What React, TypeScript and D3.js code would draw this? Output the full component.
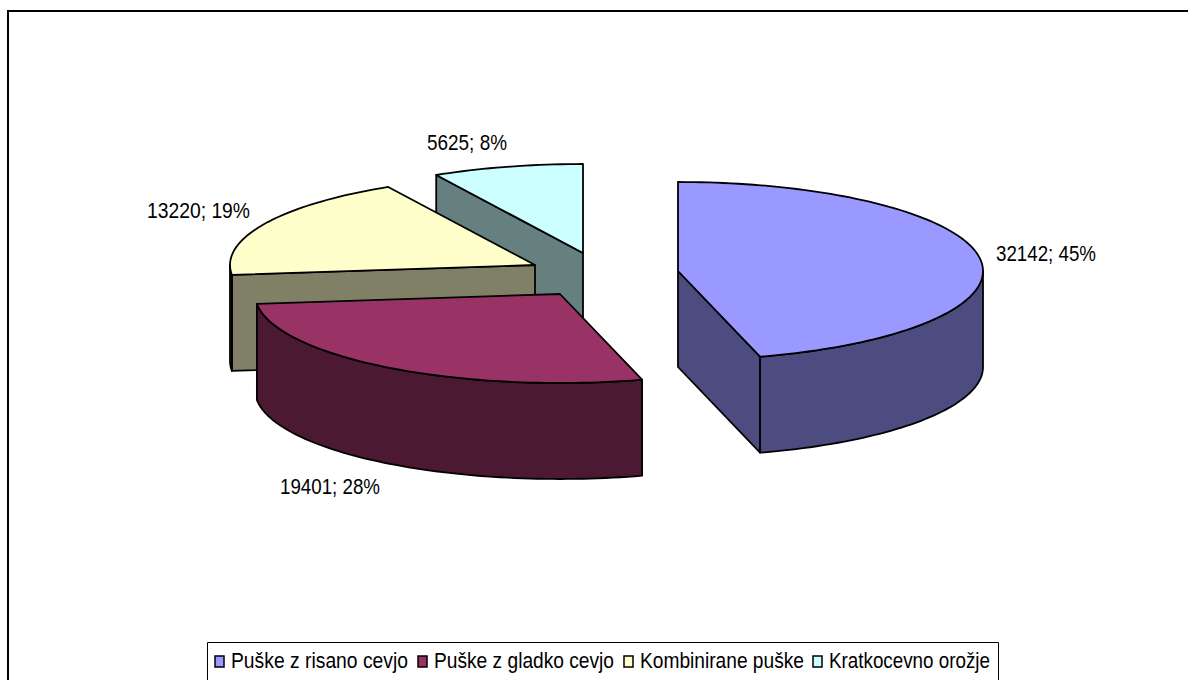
import React from "react";
import * as d3 from "d3";

const categories = ["Puške z risano cevjo", "Puške z gladko cevjo", "Kombinirane puške", "Kratkocevno orožje"];
const values = [32142, 19401, 13220, 5625];
const percents = [45, 28, 19, 8];
const topColors = ["#9999FF", "#993366", "#FFFFCC", "#CCFFFF"];
const sideColors = ["#4C4C80", "#4C1933", "#808066", "#668080"];
const apexX = [678, 560, 535, 583];
const apexY = [271, 294, 265, 253];
const labelX = [996, 280, 147, 427];
const labelY = [261, 494, 218, 150];
const labelW = [100, 100, 103, 80];
const legendX = [231, 434, 640, 829];
const legendW = [177, 180, 164, 161];
const legendSwatchX = [215, 418, 624, 813];

const RX = 305;
const RY = 89;
const DEPTH = 96;

const arcs = d3.pie<number>().sort(null)(values);

function pt(i: number, a: number, dy = 0): [number, number] {
  return [apexX[i] + RX * Math.sin(a), apexY[i] - RY * Math.cos(a) + dy];
}
function samples(a0: number, a1: number) {
  const n = Math.max(2, Math.ceil(Math.abs(a1 - a0) * 40));
  return d3.range(n + 1).map((k) => a0 + ((a1 - a0) * k) / n);
}
const line = d3.line();

function Slice({ i }: { i: number }) {
  const { startAngle: a0, endAngle: a1 } = arcs[i];
  const ax = apexX[i];
  const ay = apexY[i];
  const top = [[ax, ay] as [number, number], ...samples(a0, a1).map((a) => pt(i, a))];
  const fa0 = Math.max(a0, Math.PI / 2);
  const fa1 = Math.min(a1, (3 * Math.PI) / 2);
  const rim =
    fa1 > fa0
      ? [...samples(fa0, fa1).map((a) => pt(i, a)), ...samples(fa1, fa0).map((a) => pt(i, a, DEPTH))]
      : null;
  // the radial wall facing the viewer: end edge for the first slice, start edge for the others
  const wallAngle = i === 0 ? a1 : a0;
  const wall =
    i !== 1
      ? ([
          [ax, ay],
          pt(i, wallAngle),
          pt(i, wallAngle, DEPTH),
          [ax, ay + DEPTH],
        ] as [number, number][])
      : null;
  const style = { stroke: "#000", strokeWidth: 1.8, strokeLinejoin: "round" as const };
  return (
    <g>
      {wall && <path d={line(wall)! + "Z"} fill={sideColors[i]} {...style} />}
      {rim && <path d={line(rim)! + "Z"} fill={sideColors[i]} {...style} />}
      <path d={line(top)! + "Z"} fill={topColors[i]} {...style} />
    </g>
  );
}

export default function App() {
  const font = "'Liberation Sans', Arial, sans-serif";
  return (
    <svg
      width={1188}
      height={680}
      style={{ position: "absolute", left: 0, top: 0, background: "#fff" }}
      fontFamily={font}
    >
      <path d="M8 680V11H1188" fill="none" stroke="#000" strokeWidth={2} />
      {[3, 2, 1, 0].map((i) => (
        <Slice key={i} i={i} />
      ))}
      {categories.map((c, i) => (
        <text
          key={"l" + i}
          x={labelX[i]}
          y={labelY[i]}
          fontSize={22}
          fill="#000"
          textLength={labelW[i]}
          lengthAdjust="spacingAndGlyphs"
        >
          {`${values[i]}; ${percents[i]}%`}
        </text>
      ))}
      <path d="M207.5 681V642.5H998.5V681" fill="#fff" stroke="#000" strokeWidth={1} />
      {categories.map((c, i) => (
        <g key={"k" + i}>
          <rect
            x={legendSwatchX[i]}
            y={656}
            width={9}
            height={11}
            fill={topColors[i]}
            stroke="#000"
            strokeWidth={1.5}
          />
          <text
            x={legendX[i]}
            y={668}
            fontSize={22}
            fill="#000"
            textLength={legendW[i]}
            lengthAdjust="spacingAndGlyphs"
          >
            {c}
          </text>
        </g>
      ))}
    </svg>
  );
}
